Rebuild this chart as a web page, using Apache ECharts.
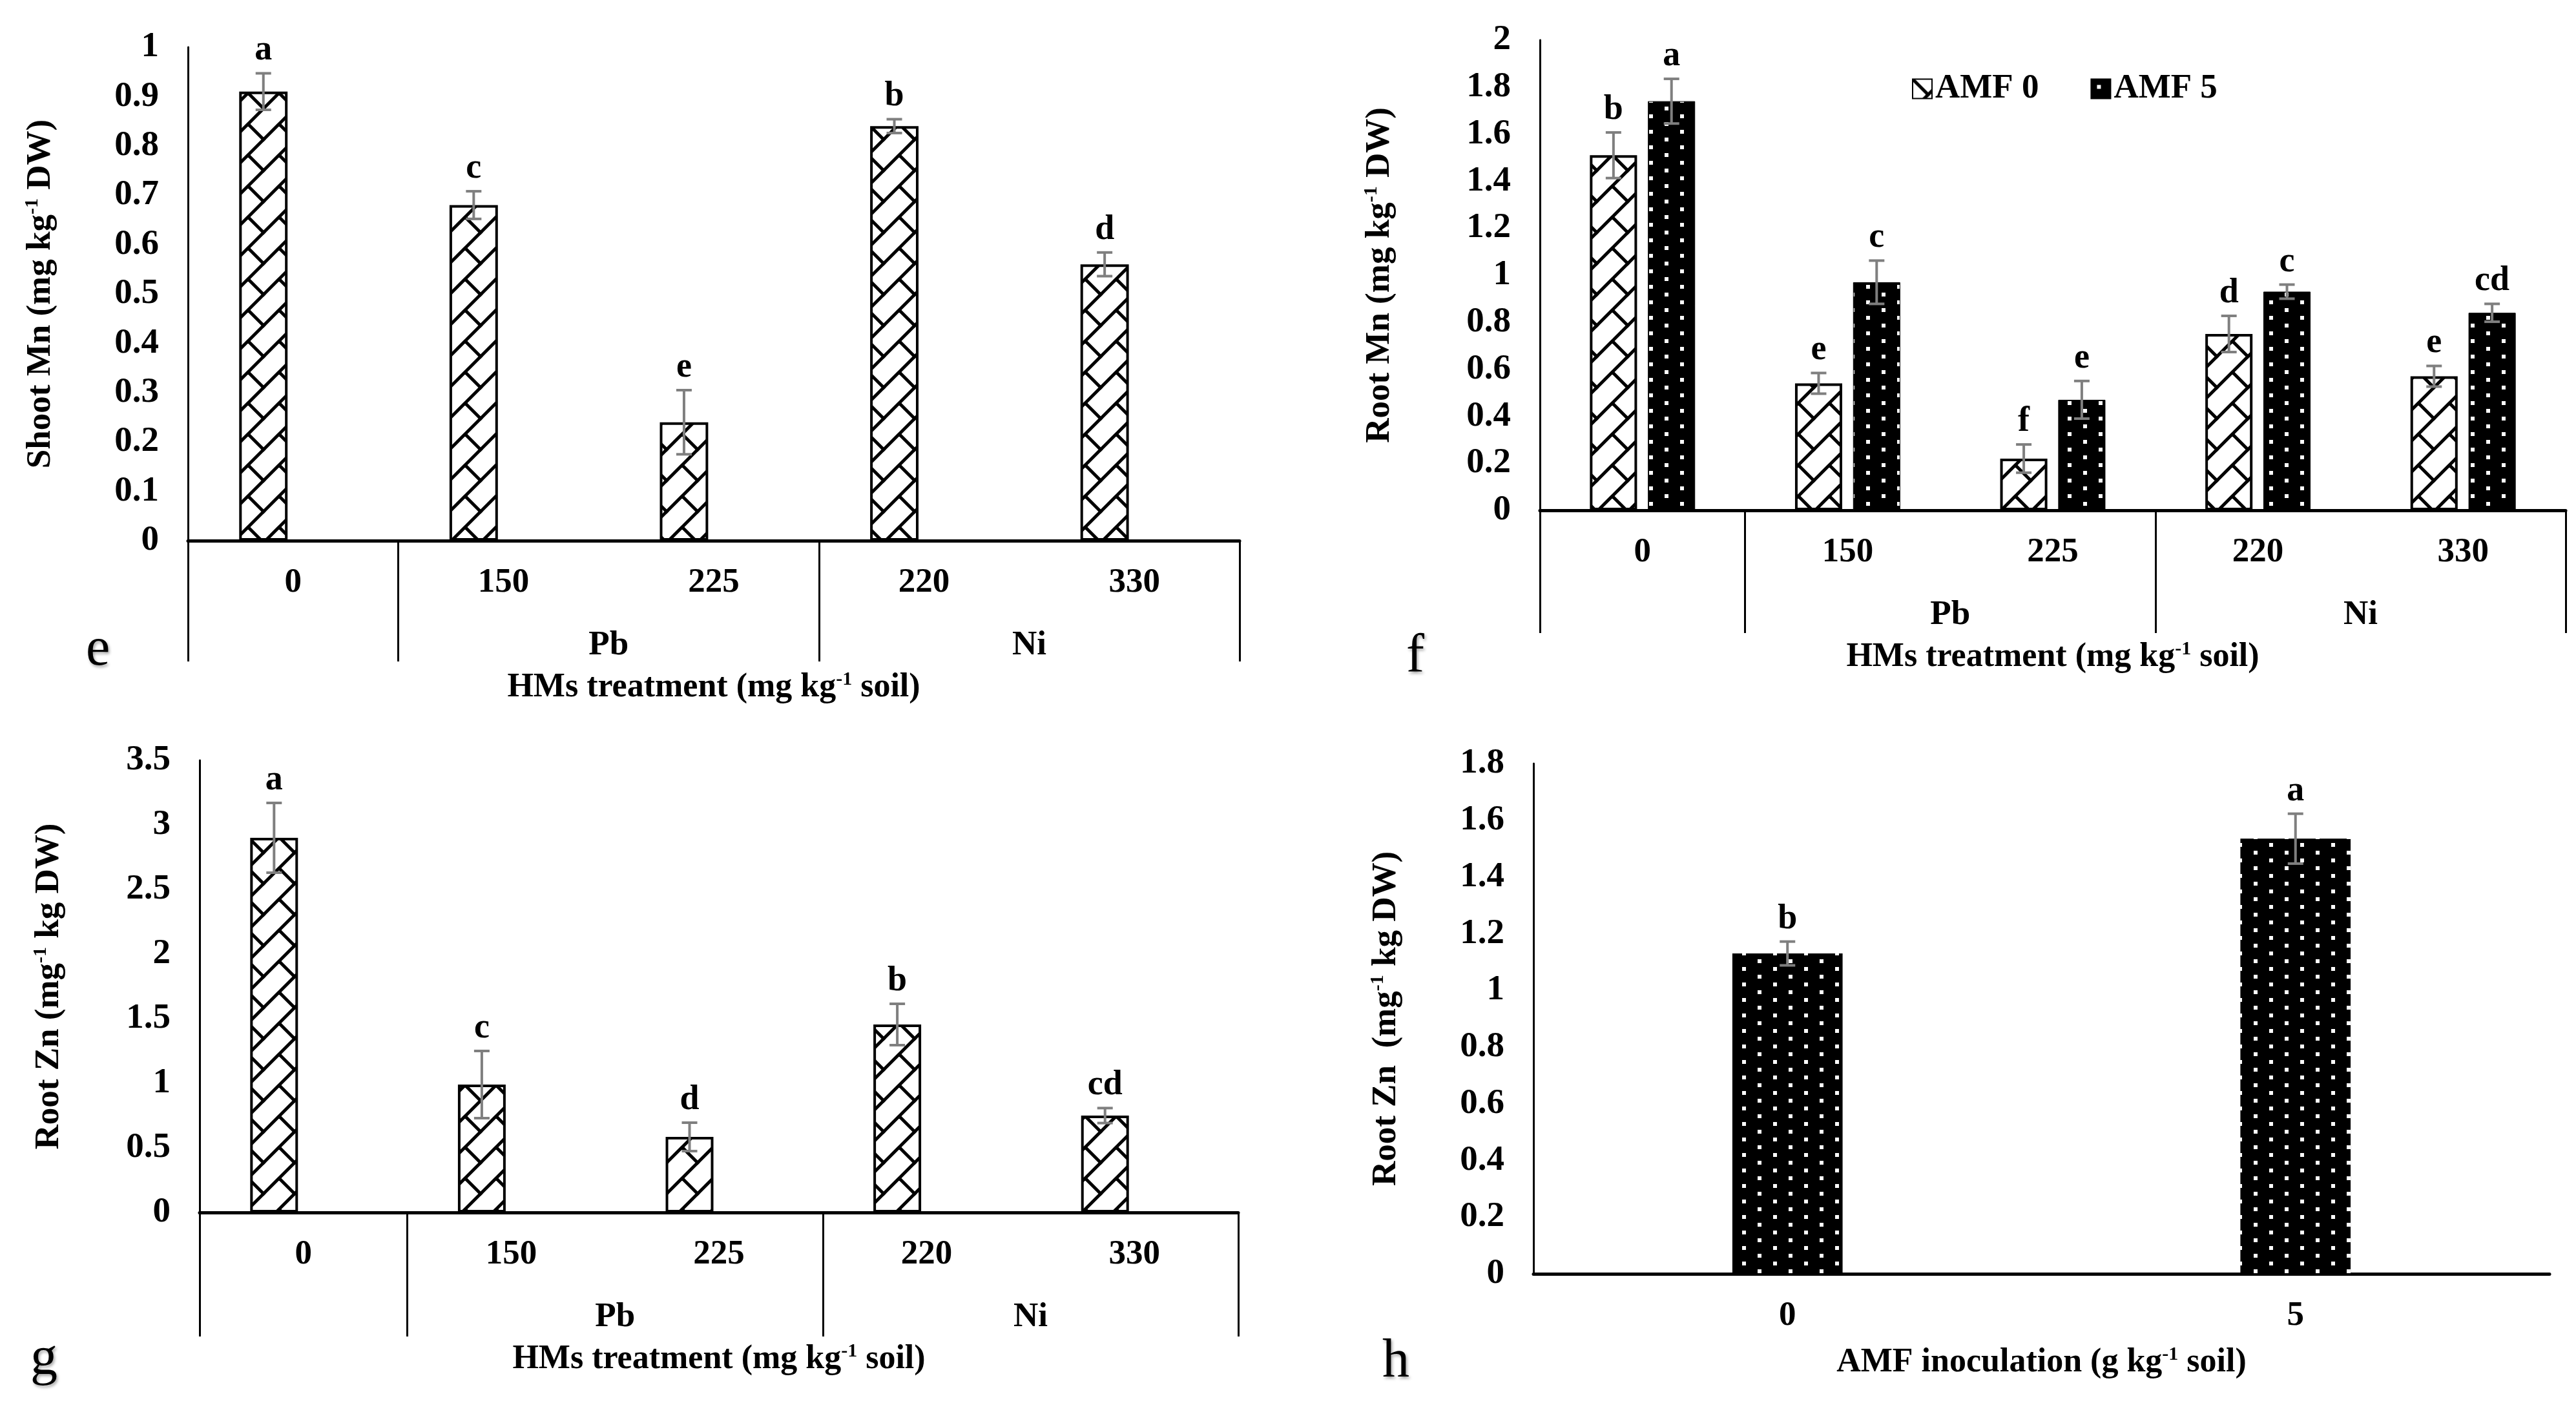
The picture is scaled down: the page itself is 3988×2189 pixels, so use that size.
<!DOCTYPE html>
<html>
<head>
<meta charset="utf-8">
<script src="https://cdn.jsdelivr.net/npm/echarts@6/dist/echarts.min.js"></script>
<style>
html, body { margin: 0; padding: 0; background: #fff; }
#chart { width: 3988px; height: 2189px; }
</style>
</head>
<body>
<div id="chart"></div>
<script>
// categories
var hmCats = ['0', '150', '225', '220', '330']
var hmGroups = ['', 'Pb', 'Pb', 'Ni', 'Ni']
var amfCats = ['0', '5']

// e: shoot Mn
var shootMn = [0.91, 0.68, 0.24, 0.84, 0.56]
var shootMnErr = [0.037, 0.028, 0.065, 0.014, 0.024]
var shootMnLetters = ['a', 'c', 'e', 'b', 'd']

// f: root Mn, AMF 0 / AMF 5
var rootMnAmf0 = [1.51, 0.54, 0.22, 0.75, 0.57]
var rootMnAmf0Err = [0.097, 0.044, 0.06, 0.077, 0.044]
var rootMnAmf0Letters = ['b', 'e', 'f', 'd', 'e']
var rootMnAmf5 = [1.74, 0.97, 0.47, 0.93, 0.84]
var rootMnAmf5Err = [0.095, 0.092, 0.08, 0.03, 0.038]
var rootMnAmf5Letters = ['a', 'c', 'e', 'c', 'cd']

// g: root Zn by HMs
var rootZn = [2.9, 0.99, 0.585, 1.455, 0.75]
var rootZnErr = [0.27, 0.26, 0.11, 0.16, 0.058]
var rootZnLetters = ['a', 'c', 'd', 'b', 'cd']

// h: root Zn by AMF
var rootZnAmf = [1.13, 1.535]
var rootZnAmfErr = [0.042, 0.088]
var rootZnAmfLetters = ['b', 'a']

var FONT = '"Liberation Serif", "Times New Roman", serif'

// zigzag hatch tile (white with black diagonals)
function makeHatch() {
  var c = document.createElement('canvas')
  c.width = 48; c.height = 48
  var ctx = c.getContext('2d')
  ctx.fillStyle = '#fff'
  ctx.fillRect(0, 0, 48, 48)
  ctx.strokeStyle = '#000'
  ctx.lineWidth = 5
  ctx.lineCap = 'square'
  for (var k = -1; k <= 1; k++) {
    ctx.beginPath()
    ctx.moveTo(-48 + k * 48, 96)
    ctx.lineTo(96 + k * 48, -48)
    ctx.stroke()
  }
  ;[[0, 0], [48, 0], [0, 48], [-48, 0], [0, -48]].forEach(function (o) {
    ctx.beginPath()
    ctx.moveTo(o[0], o[1])
    ctx.lineTo(o[0] + 24, o[1] + 24)
    ctx.stroke()
  })
  return c
}

// black tile with white staggered squares
function makeDots() {
  var c = document.createElement('canvas')
  c.width = 48; c.height = 24
  var ctx = c.getContext('2d')
  ctx.fillStyle = '#000'
  ctx.fillRect(0, 0, 48, 24)
  ctx.fillStyle = '#fff'
  ctx.fillRect(9, 9, 6, 6)
  ctx.fillRect(33, 21, 6, 6)
  ctx.fillRect(33, -3, 6, 6)
  return c
}

var hatch = { image: makeHatch(), repeat: 'repeat' }
var dots = { image: makeDots(), repeat: 'repeat' }

// slots for group labels: centre of each run of equal group names
function groupSlots(groups) {
  var slots = []
  for (var i = 0; i <= groups.length * 2; i++) slots.push('')
  var s = 0
  for (var j = 1; j <= groups.length; j++) {
    if (j === groups.length || groups[j] !== groups[s]) {
      slots[s + j] = groups[s]
      s = j
    }
  }
  return slots
}
var slots = groupSlots(hmGroups)

var supRich = {
  sup: { fontFamily: FONT, fontWeight: 'bold', fontSize: 30, verticalAlign: 'top', lineHeight: 56, padding: [0, 0, 22, 0] }
}

function hmXAxes(grid, tickLen) {
  return [
    {
      type: 'category', gridIndex: grid, data: hmCats,
      axisLine: { lineStyle: { color: '#000', width: 5 } },
      axisTick: {
        show: true, length: tickLen,
        lineStyle: { color: '#000', width: 3 },
        interval: function (i) { return i === 0 || hmGroups[i] !== hmGroups[i - 1] }
      },
      axisLabel: { margin: 39, color: '#000', fontFamily: FONT, fontWeight: 'bold', fontSize: 53 },
      name: 'HMs treatment (mg kg{sup|-1} soil)',
      nameLocation: 'middle', nameGap: 200,
      nameTextStyle: { color: '#000', fontFamily: FONT, fontWeight: 'bold', fontSize: 52, lineHeight: 56, rich: supRich }
    },
    {
      type: 'category', gridIndex: grid, boundaryGap: false, position: 'bottom', offset: 128,
      data: slots.map(function (s, i) { return 'slot' + i }),
      axisLine: { show: false, onZero: false }, axisTick: { show: false },
      axisLabel: {
        interval: 0, margin: 8, color: '#000', fontFamily: FONT, fontWeight: 'bold', fontSize: 53,
        formatter: function (v, i) { return slots[i] }
      }
    }
  ]
}

function yAxisFor(grid, max, interval, name, gap) {
  return {
    type: 'value', gridIndex: grid, min: 0, max: max, interval: interval,
    splitLine: { show: false },
    axisLine: { show: true, lineStyle: { color: '#000', width: 3 } },
    axisTick: { show: false },
    axisLabel: { margin: 45, color: '#000', fontFamily: FONT, fontWeight: 'bold', fontSize: 55 },
    name: name, nameLocation: 'middle', nameGap: gap,
    nameTextStyle: { color: '#000', fontFamily: FONT, fontWeight: 'bold', fontSize: 53, lineHeight: 56, rich: supRich }
  }
}

// error bars + significance letters
function errSeries(xi, yi, vals, errs, letters, offsetFrac) {
  return {
    type: 'custom', xAxisIndex: xi, yAxisIndex: yi, z: 10, silent: true,
    data: vals.map(function (v, i) { return [i, v + errs[i], v - errs[i]] }),
    renderItem: function (params, api) {
      var i = params.dataIndex
      var band = api.size([1, 0])[0]
      var hi = api.coord([api.value(0), api.value(1)])
      var lo = api.coord([api.value(0), api.value(2)])
      var x = hi[0] + offsetFrac * band
      var cap = 12
      var ls = { stroke: '#7f7f7f', lineWidth: 4 }
      return {
        type: 'group',
        children: [
          { type: 'line', shape: { x1: x, y1: hi[1], x2: x, y2: lo[1] }, style: ls },
          { type: 'line', shape: { x1: x - cap, y1: hi[1], x2: x + cap, y2: hi[1] }, style: ls },
          { type: 'line', shape: { x1: x - cap, y1: lo[1], x2: x + cap, y2: lo[1] }, style: ls },
          {
            type: 'text',
            style: {
              text: letters[i], x: x, y: hi[1] - 8, align: 'center', verticalAlign: 'bottom',
              fill: '#000', font: 'bold 54px ' + FONT
            }
          }
        ]
      }
    }
  }
}

var BW = '23%'
var OFF = 0.23 * 1.23 / 2

var chart = echarts.init(document.getElementById('chart'))

var panelLetter = function (t, left, top) {
  return {
    text: t, left: left, top: top,
    textStyle: {
      fontFamily: FONT, fontWeight: 'normal', fontSize: 84, color: '#000',
      textShadowColor: 'rgba(0,0,0,0.35)', textShadowBlur: 4, textShadowOffsetX: 2, textShadowOffsetY: 3
    }
  }
}

var option = {
  backgroundColor: '#fff',
  animation: false,
  title: [
    panelLetter('e', 128, 960),
    panelLetter('f', 2172, 970),
    panelLetter('g', 42, 2058),
    panelLetter('h', 2135, 2062)
  ],
  legend: {
    data: ['AMF 0', 'AMF 5'],
    left: 2955, top: 106,
    icon: 'rect', itemWidth: 30, itemHeight: 30, itemGap: 80,
    textStyle: { color: '#000', fontFamily: FONT, fontWeight: 'bold', fontSize: 53 }
  },
  grid: [
    { left: 291, top: 73, width: 1628, height: 764 },
    { left: 2384, top: 62, width: 1588, height: 728 },
    { left: 309, top: 1177, width: 1608, height: 700 },
    { left: 2374, top: 1182, width: 1573, height: 790 }
  ],
  xAxis: [].concat(
    hmXAxes(0, 187),
    hmXAxes(1, 190),
    hmXAxes(2, 192),
    [{
      type: 'category', gridIndex: 3, data: amfCats,
      axisLine: { lineStyle: { color: '#000', width: 5 } },
      axisTick: { show: false },
      axisLabel: { margin: 39, color: '#000', fontFamily: FONT, fontWeight: 'bold', fontSize: 53 },
      name: 'AMF inoculation (g kg{sup|-1} soil)',
      nameLocation: 'middle', nameGap: 110,
      nameTextStyle: { color: '#000', fontFamily: FONT, fontWeight: 'bold', fontSize: 52, lineHeight: 56, rich: supRich }
    }]
  ),
  yAxis: [
    yAxisFor(0, 1, 0.1, 'Shoot Mn (mg kg{sup|-1} DW)', 200),
    yAxisFor(1, 2, 0.2, 'Root Mn (mg kg{sup|-1} DW)', 220),
    yAxisFor(2, 3.5, 0.5, 'Root Zn (mg{sup|-1} kg DW)', 205),
    yAxisFor(3, 1.8, 0.2, 'Root Zn  (mg{sup|-1} kg DW)', 200)
  ],
  series: [
    // e
    { type: 'bar', name: 'Shoot Mn', xAxisIndex: 0, yAxisIndex: 0, data: shootMn, barWidth: BW, barGap: '23%',
      itemStyle: { color: hatch, borderColor: '#000', borderWidth: 4 } },
    { type: 'bar', name: 'Shoot Mn AMF 5', xAxisIndex: 0, yAxisIndex: 0, data: [], barWidth: BW, barGap: '23%' },
    errSeries(0, 0, shootMn, shootMnErr, shootMnLetters, -OFF),
    // f
    { type: 'bar', name: 'AMF 0', xAxisIndex: 2, yAxisIndex: 1, data: rootMnAmf0, barWidth: BW, barGap: '23%',
      itemStyle: { color: hatch, borderColor: '#000', borderWidth: 4 } },
    { type: 'bar', name: 'AMF 5', xAxisIndex: 2, yAxisIndex: 1, data: rootMnAmf5, barWidth: BW, barGap: '23%',
      itemStyle: { color: dots, borderColor: '#000', borderWidth: 1 } },
    errSeries(2, 1, rootMnAmf0, rootMnAmf0Err, rootMnAmf0Letters, -OFF),
    errSeries(2, 1, rootMnAmf5, rootMnAmf5Err, rootMnAmf5Letters, OFF),
    // g
    { type: 'bar', name: 'Root Zn', xAxisIndex: 4, yAxisIndex: 2, data: rootZn, barWidth: BW, barGap: '23%',
      itemStyle: { color: hatch, borderColor: '#000', borderWidth: 4 } },
    { type: 'bar', name: 'Root Zn AMF 5', xAxisIndex: 4, yAxisIndex: 2, data: [], barWidth: BW, barGap: '23%' },
    errSeries(4, 2, rootZn, rootZnErr, rootZnLetters, -OFF),
    // h
    { type: 'bar', name: 'Root Zn AMF', xAxisIndex: 6, yAxisIndex: 3, data: rootZnAmf, barWidth: '21.7%',
      itemStyle: { color: dots } },
    errSeries(6, 3, rootZnAmf, rootZnAmfErr, rootZnAmfLetters, 0)
  ]
}

chart.setOption(option)
window.addEventListener('resize', function () { chart.resize() })
</script>
</body>
</html>
